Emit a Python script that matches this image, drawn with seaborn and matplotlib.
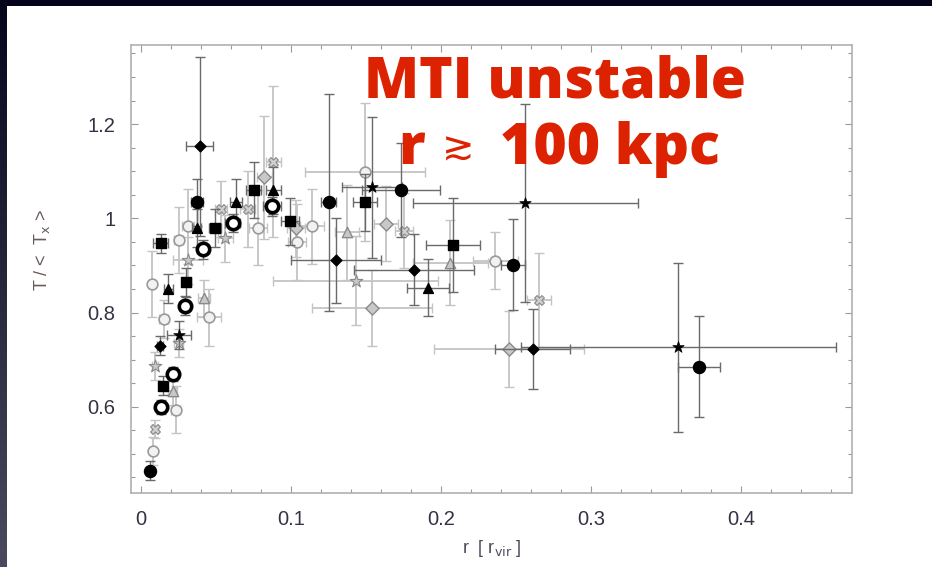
import numpy as np
import pandas as pd
import matplotlib
matplotlib.use("Agg")
import matplotlib.pyplot as plt
import seaborn as sns
from matplotlib.ticker import FixedLocator, MultipleLocator, FuncFormatter
from matplotlib.colors import LinearSegmentedColormap

# ---------------- data ----------------
# black filled circles
r_bc = [0.006, 0.037, 0.125, 0.173, 0.248, 0.372]
t_bc = [0.464, 1.034, 1.034, 1.060, 0.902, 0.685]
dr_bc = [0.002, 0.004, 0.005, 0.026, 0.008, 0.014]
dt_bc = [0.02, 0.05, 0.23, 0.10, 0.097, 0.107]
# black filled squares
r_bs = [0.013, 0.0147, 0.030, 0.049, 0.075, 0.099, 0.149, 0.208]
t_bs = [0.947, 0.645, 0.864, 0.979, 1.060, 0.994, 1.034, 0.943]
dr_bs = [0.005, 0.002, 0.003, 0.004, 0.005, 0.006, 0.008, 0.018]
dt_bs = [0.02, 0.02, 0.03, 0.04, 0.06, 0.05, 0.06, 0.10]
# black filled triangles
r_bt = [0.018, 0.037, 0.063, 0.088, 0.191]
t_bt = [0.851, 0.979, 1.034, 1.060, 0.853]
dr_bt = [0.003, 0.003, 0.004, 0.005, 0.014]
dt_bt = [0.03, 0.04, 0.05, 0.05, 0.06]
# black filled diamonds
r_bd = [0.0127, 0.039, 0.130, 0.182, 0.261]
t_bd = [0.730, 1.153, 0.911, 0.891, 0.723]
dr_bd = [0.002, 0.009, 0.030, 0.040, 0.025]
dt_bd = [0.02, 0.19, 0.09, 0.075, 0.085]
# black stars
r_bst = [0.025, 0.154, 0.256, 0.358]
t_bst = [0.753, 1.066, 1.032, 0.726]
dr_bst = [0.008, 0.020, 0.075, 0.105]
dt_bst = [0.03, 0.15, 0.21, 0.18]
# thick open black circles
r_oc = [0.013, 0.021, 0.029, 0.041, 0.061, 0.087]
t_oc = [0.600, 0.670, 0.815, 0.934, 0.990, 1.026]
dr_oc = [0.002, 0.002, 0.003, 0.004, 0.005, 0.006]
dt_oc = [0.015, 0.015, 0.02, 0.02, 0.02, 0.02]
# grey open circles
r_gc = [0.007, 0.008, 0.015, 0.023, 0.025, 0.031, 0.045, 0.078, 0.104, 0.114, 0.149, 0.236]
t_gc = [0.860, 0.506, 0.787, 0.594, 0.955, 0.983, 0.790, 0.980, 0.950, 0.983, 1.098, 0.910]
dr_gc = [0.002, 0.002, 0.003, 0.003, 0.003, 0.004, 0.008, 0.006, 0.006, 0.008, 0.040, 0.015]
dt_gc = [0.07, 0.03, 0.04, 0.05, 0.07, 0.08, 0.06, 0.08, 0.08, 0.08, 0.147, 0.06]
# grey diamonds
r_gd = [0.082, 0.103, 0.154, 0.163, 0.245]
t_gd = [1.087, 0.979, 0.810, 0.989, 0.723]
dr_gd = [0.005, 0.006, 0.040, 0.008, 0.050]
dt_gd = [0.13, 0.06, 0.08, 0.08, 0.08]
# grey triangles
r_gt = [0.021, 0.042, 0.137, 0.206]
t_gt = [0.634, 0.830, 0.970, 0.906]
dr_gt = [0.003, 0.004, 0.008, 0.025]
dt_gt = [0.03, 0.04, 0.10, 0.09]
# grey stars
r_gs = [0.009, 0.025, 0.031, 0.056, 0.143]
t_gs = [0.687, 0.736, 0.911, 0.958, 0.868]
dr_gs = [0.002, 0.003, 0.010, 0.005, 0.055]
dt_gs = [0.03, 0.03, 0.05, 0.05, 0.095]
# grey crosses
r_gx = [0.009, 0.053, 0.071, 0.088, 0.175, 0.265]
t_gx = [0.553, 1.020, 1.020, 1.120, 0.974, 0.826]
dr_gx = [0.002, 0.004, 0.005, 0.005, 0.006, 0.008]
dt_gx = [0.02, 0.06, 0.08, 0.16, 0.08, 0.10]

xticks = [0, 0.1, 0.2, 0.3, 0.4]
xtick_labels = ["0", "0.1", "0.2", "0.3", "0.4"]
yticks = [0.6, 0.8, 1.0, 1.2]
ytick_labels = ["0.6", "0.8", "1", "1.2"]

# ---------------- figure ----------------
sns.set_theme(style="white")
plt.rcParams['font.family'] = ['Liberation Sans', 'DejaVu Sans']

W, H = 932, 567
fig = plt.figure(figsize=(W / 100, H / 100), dpi=100, facecolor="white")

# slide dark border strips
top = fig.add_axes([0, 1 - 6 / H, 1, 6 / H])
top.set_facecolor("#03031a"); top.set_xticks([]); top.set_yticks([])
for s in top.spines.values():
    s.set_visible(False)
left = fig.add_axes([0, 0, 7 / W, 1])
grad = np.linspace(0, 1, 256).reshape(-1, 1)
cm = LinearSegmentedColormap.from_list("slide", ["#05051c", "#4a4a5c"])
left.imshow(grad, aspect="auto", cmap=cm, extent=[0, 1, 0, 1], origin="upper")
left.set_axis_off()

ax = fig.add_axes([131 / W, (H - 493) / H, 721 / W, 448 / H])
ax.set_facecolor("white")

grey_err = "#c4c4c4"
dark_err = "#6a6a6a"

series = [
    # r, t, dr, dt, marker, size, face, edge, lw, errcolor, z
    (r_gc, t_gc, dr_gc, dt_gc, "o", 60, "#f2f2f2", "#9a9a9a", 1.2, grey_err, 2),
    (r_gd, t_gd, dr_gd, dt_gd, "D", 45, "#c8c8c8", "#8a8a8a", 1.0, grey_err, 2),
    (r_gt, t_gt, dr_gt, dt_gt, "^", 55, "#c8c8c8", "#8a8a8a", 1.0, grey_err, 2),
    (r_gs, t_gs, dr_gs, dt_gs, "*", 90, "#c8c8c8", "#8a8a8a", 0.8, grey_err, 2),
    (r_gx, t_gx, dr_gx, dt_gx, "X", 50, "#d0d0d0", "#8a8a8a", 0.8, grey_err, 2),
    (r_bc, t_bc, dr_bc, dt_bc, "o", 75, "black", "black", 1.0, dark_err, 4),
    (r_bs, t_bs, dr_bs, dt_bs, "s", 45, "black", "black", 1.0, dark_err, 4),
    (r_bt, t_bt, dr_bt, dt_bt, "^", 50, "black", "black", 1.0, dark_err, 4),
    (r_bd, t_bd, dr_bd, dt_bd, "D", 30, "black", "black", 1.0, dark_err, 4),
    (r_bst, t_bst, dr_bst, dt_bst, "*", 75, "black", "black", 0.5, dark_err, 4),
    (r_oc, t_oc, dr_oc, dt_oc, "o", 80, "white", "black", 2.6, dark_err, 5),
]

for (r, t, dr, dt, mk, sz, fc, ec, lw, errc, z) in series:
    df = pd.DataFrame({"r": r, "T": t})
    ax.errorbar(df["r"], df["T"], xerr=dr, yerr=dt, fmt="none",
                ecolor=errc, elinewidth=1.3 if errc == grey_err else 1.0,
                capsize=3.5, capthick=1.0, zorder=z - 1)
    sns.scatterplot(data=df, x="r", y="T", marker=mk, s=sz, color=fc,
                    edgecolor=ec, linewidth=lw, ax=ax, zorder=z, legend=False)

ax.set_xlim(-0.0067, 0.474)
ax.set_ylim(0.417, 1.368)


def fmt_factory(ticks, labels):
    def f(v, p):
        for tk, lb in zip(ticks, labels):
            if abs(v - tk) < 1e-6:
                return lb
        return ""
    return FuncFormatter(f)


ax.xaxis.set_major_locator(FixedLocator(xticks))
ax.xaxis.set_major_formatter(fmt_factory(xticks, xtick_labels))
ax.xaxis.set_minor_locator(MultipleLocator(0.02))
ax.yaxis.set_major_locator(FixedLocator(yticks))
ax.yaxis.set_major_formatter(fmt_factory(yticks, ytick_labels))
ax.yaxis.set_minor_locator(MultipleLocator(0.05))

ax.tick_params(which="both", direction="in", top=True, right=True, bottom=True, left=True,
               color="#999999", width=0.8)
ax.tick_params(which="major", length=5, labelsize=14.5, labelcolor="#333344")
ax.tick_params(which="minor", length=3)
ax.tick_params(axis="x", which="major", pad=12)
ax.tick_params(axis="y", which="major", pad=11)
ax.tick_params(axis="x", which="both", top=True, labeltop=False)
ax.tick_params(axis="y", which="both", right=True, labelright=False)

for s in ax.spines.values():
    s.set_color("#b0b0b0")
    s.set_linewidth(1.2)

ax.set_xlabel(r"r  [ r$_{\rm vir}$ ]", fontsize=13, color="#4a4a5a")
ax.set_ylabel(r"T / <  T$_{\rm x}$ >", fontsize=13, color="#6a5a5a")
ax.xaxis.set_label_coords((492 - 131) / 721, (493 - 538) / 448)
ax.yaxis.set_label_coords((52 - 131) / 721, (493 - 250) / 448)

# red annotation
red = "#dc2200"
fam = ["Open Sans", "DejaVu Sans"]
fig.text(555 / W, 1 - 98 / H, "MTI unstable", color=red, fontsize=41,
         fontweight="heavy", family=fam, ha="center", va="baseline")
fig.text(398 / W, 1 - 164 / H, "r", color=red, fontsize=41,
         fontweight="heavy", family=fam, ha="left", va="baseline")
fig.text(458 / W, 1 - 148 / H, "\u2273", color=red, fontsize=28,
         family=["DejaVu Sans"], ha="center", va="center")
fig.text(500 / W, 1 - 164 / H, "100 kpc", color=red, fontsize=41,
         fontweight="heavy", family=fam, ha="left", va="baseline")

fig.savefig("out.png", dpi=100, facecolor="white")
